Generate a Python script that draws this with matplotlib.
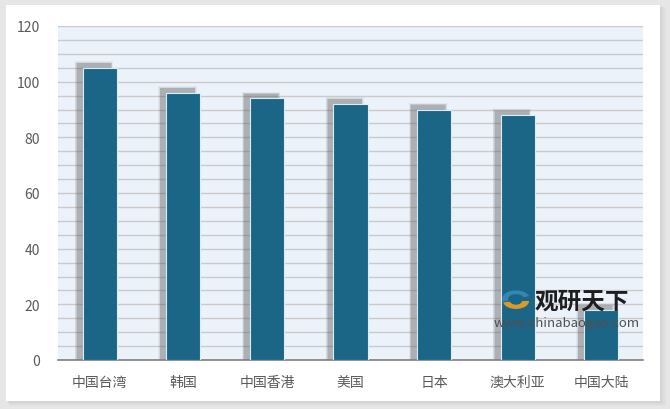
import matplotlib.pyplot as plt
from matplotlib.patches import Rectangle, Wedge
import numpy as np

plt.rcParams['font.family'] = ['Noto Sans CJK SC', 'DejaVu Sans']

# data
regions = ['中国台湾', '韩国', '中国香港', '美国', '日本', '澳大利亚', '中国大陆']
values = [105, 96, 94, 92, 90, 88, 18]

bar_color = '#1B6587'
text_color = '#595959'

fig = plt.figure(figsize=(6.7, 4.1), dpi=100, facecolor='#E6E6E6')

# white card with soft shadow
for i, a in enumerate([0.05, 0.05, 0.06, 0.08]):
    d = (4 - i) / 670
    fig.patches.append(Rectangle((7/670 + d*0.5, 7/410 - d*1.5), 653/670 + d, 396/410 + d,
                                 transform=fig.transFigure, facecolor='#9A9A9A',
                                 alpha=a, edgecolor='none', zorder=0))
fig.patches.append(Rectangle((6/670, 8/410), 654/670, 396/410, transform=fig.transFigure,
                             facecolor='white', edgecolor='none', zorder=1))

ax = fig.add_axes([58/670, 49/410, 585/670, 334/410])
ax.set_facecolor('#EBF2F9')
ax.set_zorder(2)

x = np.arange(len(regions))
w = 0.41

# blurred shadows, shifted up-left
for k, a in enumerate([0.07, 0.10, 0.14, 0.20]):
    grow = (3 - k) * 0.008
    ax.bar(x - 0.07, np.array(values) + 1.6 + (3 - k) * 0.25, width=w + 2 * grow,
           color='#5A5A5A', alpha=a, zorder=2, linewidth=0)

ax.bar(x, values, width=w, color=bar_color, edgecolor='#DDEBF3', linewidth=0.8, zorder=3)

ax.set_ylim(0, 120)
ax.set_xlim(-0.5, len(regions) - 0.5)
ax.set_yticks(range(0, 121, 20))
ax.set_yticks(range(0, 121, 5), minor=True)
ax.grid(axis='y', which='both', color='#CACACA', linewidth=1.0, zorder=1)
ax.set_axisbelow(True)
ax.set_xticks(x)
ax.set_xticklabels(regions)
ax.tick_params(axis='both', which='both', length=0, colors=text_color, labelsize=10)
ax.tick_params(axis='y', pad=13)
ax.tick_params(axis='x', pad=11)
for s in ['top', 'right', 'left']:
    ax.spines[s].set_visible(False)
ax.spines['bottom'].set_color('#7F7F7F')
ax.spines['bottom'].set_linewidth(1.2)

# watermark
fig.text(535/670, 1 - 302/410, '观研天下', fontsize=17, fontweight='bold', color='#1E1E1E',
         va='center', ha='left', zorder=5)
fig.text(567/670, 1 - 324/410, 'www.chinabaogao.com', fontsize=9.5, color='#505050',
         va='center', ha='center', zorder=5)
lx, ly = 516, 300
fig.patches.append(Wedge((lx/670, 1 - ly/410), 14/670, 20, 200, width=6/670,
                         transform=fig.transFigure, facecolor='#3A8DB8', alpha=0.85, zorder=5))
fig.patches.append(Wedge((lx/670, 1 - (ly + 2)/410), 13/670, 190, 360, width=7/670,
                         transform=fig.transFigure, facecolor='#F0A020', alpha=0.9, zorder=5))

plt.savefig('out.png', dpi=100, facecolor=fig.get_facecolor())
